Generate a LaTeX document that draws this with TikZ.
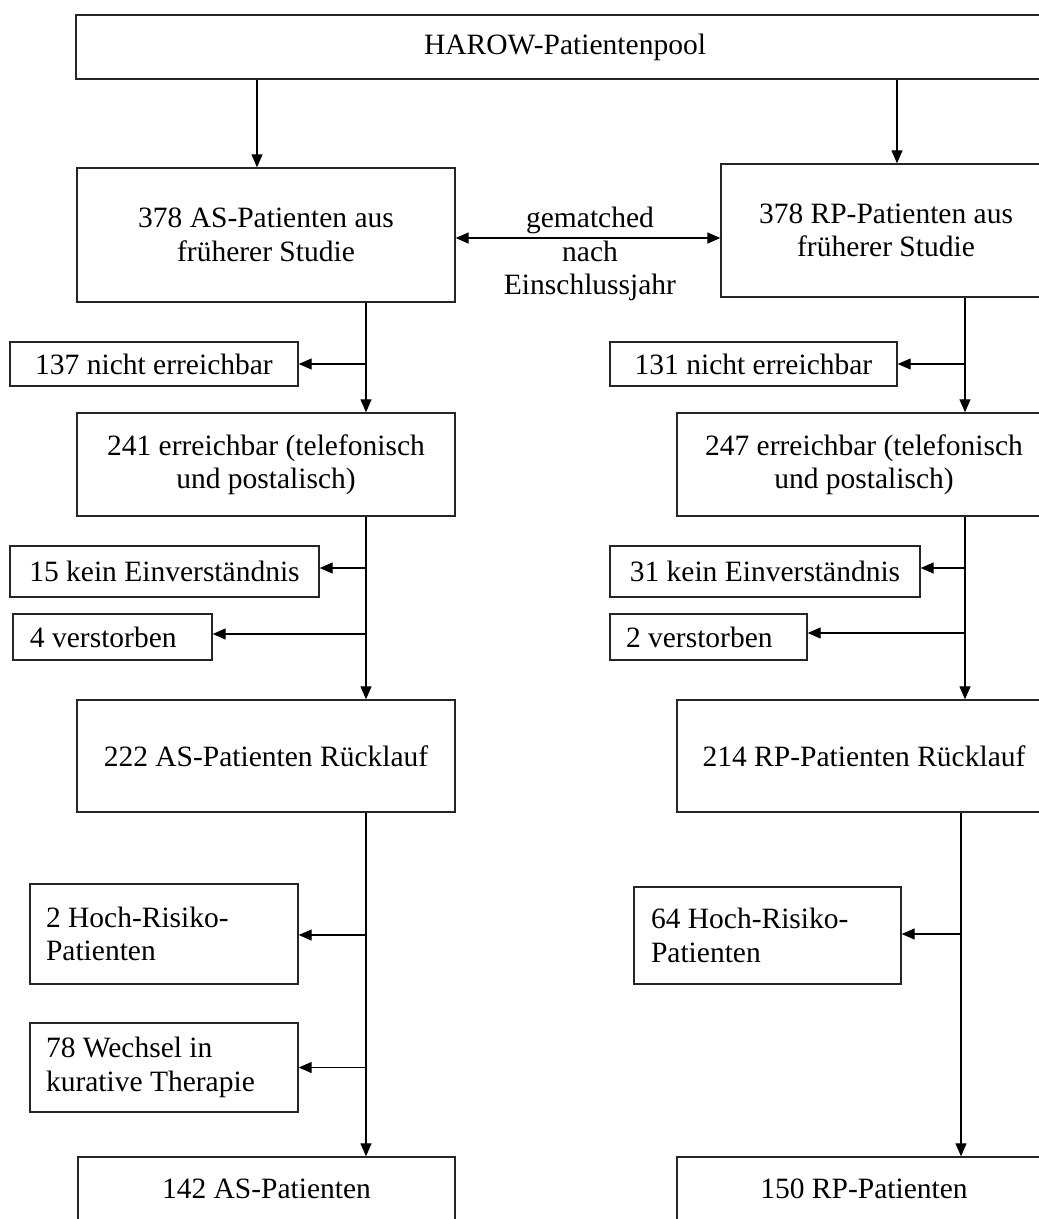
\documentclass[tikz,border=0pt]{standalone}
\usepackage{fontspec}
\setmainfont{Liberation Serif}
\usetikzlibrary{arrows.meta}
\begin{document}
\begin{tikzpicture}[x=1pt,y=1pt,
  txt/.style={font=\fontsize{29.5pt}{33.5pt}\selectfont},
  box/.style={txt, draw=black!85, line width=1.4pt, inner sep=0pt, align=center},
  lbox/.style={txt, draw=black!85, line width=1.4pt, inner ysep=0pt, align=flush left},
  arr/.style={line width=1.2pt, -{Triangle[length=13pt,width=11pt]}},
  darr/.style={line width=1.6pt, {Triangle[length=13pt,width=11pt]}-{Triangle[length=13pt,width=11pt]}}]
\useasboundingbox (0,0) rectangle (1039,-1219);
\clip (0,0) rectangle (1039,-1219);
% top
\node[box, line width=2.6pt, minimum width=978pt, minimum height=64pt] (top) at (565,-47) {HAROW-Patientenpool};
% left column
\node[box, minimum width=378pt, minimum height=134pt] (as) at (266,-235) {378 AS-Patienten aus\\früherer Studie};
\node[box, minimum width=288pt, minimum height=44pt] (n137) at (154,-364) {137 nicht erreichbar};
\node[box, minimum width=378pt, minimum height=103pt] (e241) at (266,-464.5) {241 erreichbar (telefonisch\\und postalisch)};
\node[box, minimum width=309pt, minimum height=51pt] (k15) at (164.5,-571.5) {15 kein Einverständnis};
\node[lbox, inner xsep=17pt, text width=165pt, minimum height=46pt] (v4) at (112.5,-637) {4 verstorben};
\node[box, minimum width=378pt, minimum height=112pt] (r222) at (266,-756) {222 AS-Patienten Rücklauf};
\node[lbox, inner xsep=16pt, text width=236pt, minimum height=100pt] (h2) at (164,-934) {2 Hoch-Risiko-\\Patienten};
\node[lbox, inner xsep=16pt, text width=236pt, minimum height=89pt] (w78) at (164,-1067.5) {78 Wechsel in\\kurative Therapie};
\node[box, minimum width=377pt, minimum height=64pt] (a142) at (266.5,-1189) {142 AS-Patienten};
% right column
\node[box, minimum width=330pt, minimum height=133pt] (rp) at (886,-230.5) {378 RP-Patienten aus\\früherer Studie};
\node[box, minimum width=287pt, minimum height=44pt] (n131) at (753.5,-364) {131 nicht erreichbar};
\node[box, minimum width=374pt, minimum height=103pt] (e247) at (864,-464.5) {247 erreichbar (telefonisch\\und postalisch)};
\node[box, minimum width=310pt, minimum height=51pt] (k31) at (765,-571.5) {31 kein Einverständnis};
\node[lbox, inner xsep=16pt, text width=165pt, minimum height=46pt] (v2) at (708.5,-637) {2 verstorben};
\node[box, minimum width=374pt, minimum height=112pt] (r214) at (864,-756) {214 RP-Patienten Rücklauf};
\node[lbox, inner xsep=17pt, text width=233pt, minimum height=97pt] (h64) at (767.5,-935.5) {64 Hoch-Risiko-\\Patienten};
\node[box, minimum width=374pt, minimum height=64pt] (p150) at (864,-1189) {150 RP-Patienten};
% label
\node[txt, align=center, inner sep=0pt] (gm) at (590,-254) {gematched\\nach\\Einschlussjahr};
% coordinates
\coordinate (ta) at (257,0);
\coordinate (tb) at (897,0);
\coordinate (lx) at (366,0);
\coordinate (rx) at (965,0);
\coordinate (rx2) at (961,0);
\coordinate (gy) at (0,-238);
% connectors
\draw[arr] (ta |- top.south) -- (ta |- as.north);
\draw[arr] (tb |- top.south) -- (tb |- rp.north);
\draw[darr] (as.east |- gy) -- (rp.west |- gy);
% left
\draw[arr] (lx |- as.south) -- (lx |- e241.north);
\draw[arr] (lx |- n137.east) -- (n137.east);
\draw[arr] (lx |- e241.south) -- (lx |- r222.north);
\draw[arr] ([yshift=3.5pt]k15.east -| lx) -- ([yshift=3.5pt]k15.east);
\draw[arr] ([yshift=3pt]v4.east -| lx) -- ([yshift=3pt]v4.east);
\draw[arr] (lx |- r222.south) -- (lx |- a142.north);
\draw[arr] ([yshift=-1pt]h2.east -| lx) -- ([yshift=-1pt]h2.east);
\draw[arr] (w78.east -| lx) -- (w78.east);
% right
\draw[arr] (rx |- rp.south) -- (rx |- e247.north);
\draw[arr] (rx |- n131.east) -- (n131.east);
\draw[arr] (rx |- e247.south) -- (rx |- r214.north);
\draw[arr] ([yshift=3.5pt]k31.east -| rx) -- ([yshift=3.5pt]k31.east);
\draw[arr] ([yshift=4pt]v2.east -| rx) -- ([yshift=4pt]v2.east);
\draw[arr] (rx2 |- r214.south) -- (rx2 |- p150.north);
\draw[arr] ([yshift=1.5pt]h64.east -| rx2) -- ([yshift=1.5pt]h64.east);
\end{tikzpicture}
\end{document}
